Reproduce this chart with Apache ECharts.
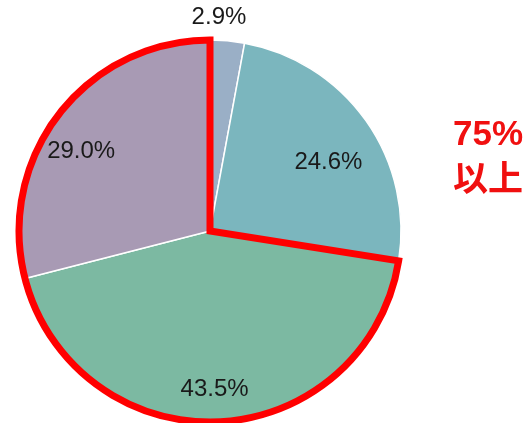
<!DOCTYPE html>
<html>
<head>
<meta charset="utf-8">
<script src="https://cdn.jsdelivr.net/npm/echarts@6/dist/echarts.min.js"></script>
<style>
html,body{margin:0;padding:0;background:#fff;}
#c{width:527px;height:423px;}
</style>
</head>
<body>
<div id="c"></div>
<script>
// Data
const categories = ['区分1', '区分2', '区分3', '区分4'];
const values = [2.9, 24.6, 43.5, 29.0];
const highlightIdx = [2, 3];
const noteLines = ['75%', '以上'];

// Styles
const colors = ['#9AAFC6', '#7BB6BE', '#7CB9A2', '#A89AB4'];
const labelOffsets = [[0, -116], [38, -12], [0, 60], [-51, -19]];

const chart = echarts.init(document.getElementById('c'), null, {renderer: 'canvas'});

const mainData = categories.map((name, i) => ({
  name: name,
  value: values[i],
  itemStyle: {color: colors[i]},
  label: {offset: labelOffsets[i]}
}));

const hiSum = highlightIdx.reduce((s, i) => s + values[i], 0);
const restSum = values.reduce((s, v) => s + v, 0) - hiSum;

const center = [210, 231];
const radius = 191;

chart.setOption({
  animation: false,
  backgroundColor: '#ffffff',
  series: [
    {
      type: 'pie',
      center: center,
      radius: [0, radius],
      startAngle: 90,
      clockwise: true,
      avoidLabelOverlap: false,
      silent: true,
      itemStyle: {borderColor: '#ffffff', borderWidth: 1.5},
      label: {
        show: true,
        position: 'inside',
        formatter: p => p.value.toFixed(1) + '%',
        fontFamily: 'Liberation Sans, Arial, sans-serif',
        fontSize: 24,
        color: '#1a1a1a'
      },
      labelLine: {show: false},
      data: mainData
    },
    {
      type: 'pie',
      center: center,
      radius: [0, radius],
      startAngle: 90,
      clockwise: true,
      silent: true,
      z: 5,
      label: {show: false},
      labelLine: {show: false},
      data: [
        {value: restSum, itemStyle: {color: 'rgba(0,0,0,0)', borderWidth: 0}},
        {value: hiSum, itemStyle: {color: 'rgba(0,0,0,0)', borderColor: '#FF0000', borderWidth: 7, borderJoin: 'miter'}}
      ]
    }
  ],
  graphic: [
    {
      type: 'text',
      left: 453,
      top: 112,
      style: {
        text: noteLines.join('\n'),
        fill: '#F01010',
        font: 'bold 35px "Liberation Sans", "Noto Sans CJK JP", sans-serif',
        lineHeight: 46
      }
    }
  ]
});
</script>
</body>
</html>
